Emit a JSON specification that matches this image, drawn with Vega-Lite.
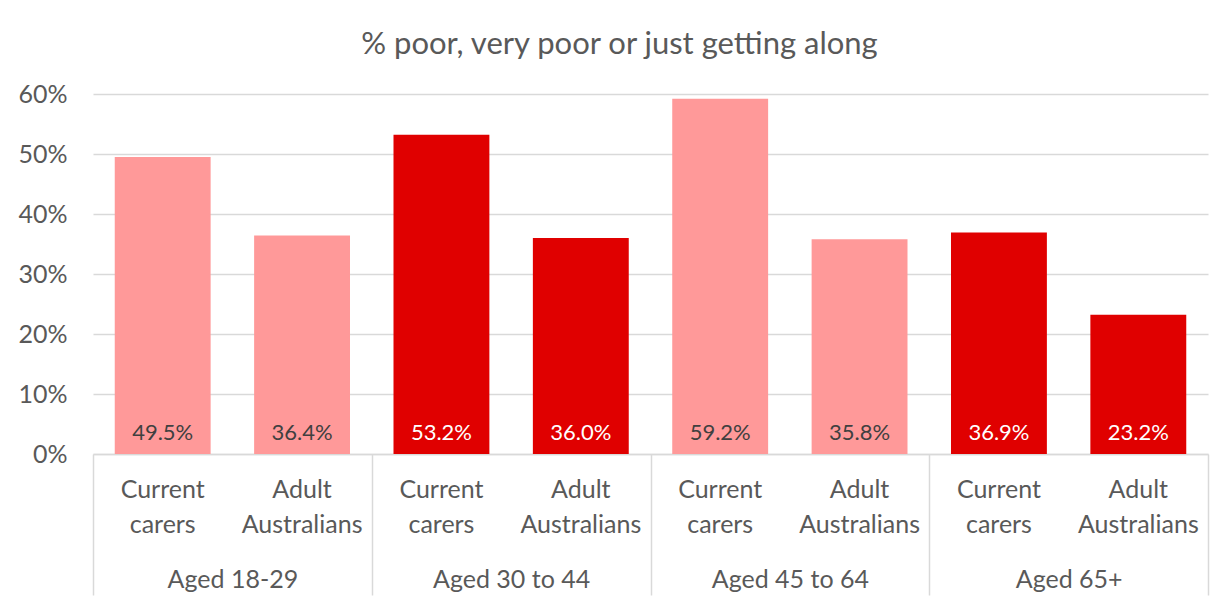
{
  "$schema": "https://vega.github.io/schema/vega-lite/v6.json",
  "autosize": {"type": "none"},
  "width": 1115,
  "height": 360,
  "padding": {"left": 93, "top": 94, "right": 20, "bottom": 146},
  "background": "white",
  "config": {
    "font": "Lato",
    "view": {"stroke": null}
  },
  "title": {
    "text": "% poor, very poor or just getting along",
    "fontSize": 31,
    "fontWeight": "normal",
    "color": "#595959",
    "anchor": "middle",
    "baseline": "alphabetic",
    "offset": -3,
    "dx": -31
  },
  "data": {
    "values": [
      {"group": "Aged 18-29", "category": "Current carers", "value": 0.495},
      {"group": "Aged 18-29", "category": "Adult Australians", "value": 0.364},
      {"group": "Aged 30 to 44", "category": "Current carers", "value": 0.532},
      {"group": "Aged 30 to 44", "category": "Adult Australians", "value": 0.360},
      {"group": "Aged 45 to 64", "category": "Current carers", "value": 0.592},
      {"group": "Aged 45 to 64", "category": "Adult Australians", "value": 0.358},
      {"group": "Aged 65+", "category": "Current carers", "value": 0.369},
      {"group": "Aged 65+", "category": "Adult Australians", "value": 0.232}
    ]
  },
  "encoding": {
    "x": {
      "field": "group",
      "type": "nominal",
      "sort": null,
      "scale": {"paddingInner": 0, "paddingOuter": 0},
      "axis": {
        "title": null,
        "labelAngle": 0,
        "labelFontSize": 25,
        "labelColor": "#595959",
        "labelPadding": -16,
        "labelBaseline": "middle",
        "tickBand": "extent",
        "tickSize": 141,
        "tickColor": "#d9d9d9",
        "tickWidth": 1.5,
        "domainColor": "#d9d9d9",
        "domainWidth": 1.5
      }
    },
    "xOffset": {
      "field": "category",
      "type": "nominal",
      "sort": ["Current carers", "Adult Australians"],
      "scale": {"paddingInner": 0.312, "paddingOuter": 0.156}
    },
    "y": {
      "field": "value",
      "type": "quantitative",
      "scale": {"domain": [0, 0.6]},
      "axis": {
        "title": null,
        "format": ".0%",
        "values": [0, 0.1, 0.2, 0.3, 0.4, 0.5, 0.6],
        "labelOverlap": false,
        "labelFontSize": 25,
        "labelColor": "#595959",
        "labelPadding": 26,
        "ticks": false,
        "domain": false,
        "grid": true,
        "gridColor": "#d9d9d9",
        "gridWidth": 1.5
      }
    }
  },
  "layer": [
    {
      "mark": {"type": "bar"},
      "encoding": {
        "color": {
          "field": "group",
          "type": "nominal",
          "sort": null,
          "scale": {
            "domain": ["Aged 18-29", "Aged 30 to 44", "Aged 45 to 64", "Aged 65+"],
            "range": ["#FF9999", "#E00000", "#FF9999", "#E00000"]
          },
          "legend": null
        }
      }
    },
    {
      "mark": {"type": "text", "fontSize": 22, "baseline": "middle", "dy": -21},
      "encoding": {
        "y": {"datum": 0},
        "text": {"field": "value", "type": "quantitative", "format": ".1%"},
        "color": {
          "condition": {
            "test": "datum.group === 'Aged 30 to 44' || datum.group === 'Aged 65+'",
            "value": "white"
          },
          "value": "#404040"
        }
      }
    },
    {
      "mark": {
        "type": "text",
        "fontSize": 25,
        "baseline": "top",
        "dy": 24,
        "lineBreak": " ",
        "lineHeight": 34.5,
        "color": "#595959"
      },
      "encoding": {
        "y": {"datum": 0},
        "text": {"field": "category", "type": "nominal"}
      }
    }
  ]
}
